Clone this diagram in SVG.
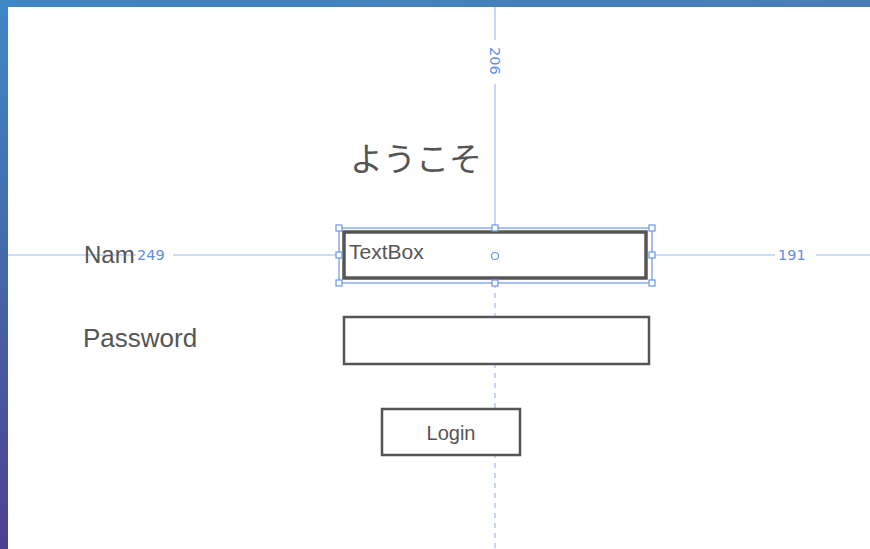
<svg xmlns="http://www.w3.org/2000/svg" width="870" height="549" viewBox="0 0 870 549">
<defs>
<linearGradient id="topbar" x1="0" y1="0" x2="1" y2="0">
<stop offset="0" stop-color="#3f86c6"/><stop offset="1" stop-color="#4a7bb8"/>
</linearGradient>
<linearGradient id="leftbar" x1="0" y1="0" x2="0" y2="1">
<stop offset="0" stop-color="#3f88c8"/><stop offset="0.5" stop-color="#4467a8"/><stop offset="1" stop-color="#4e3f90"/>
</linearGradient>
<style>
.box{fill:#fff;stroke:#555;stroke-width:2.5}
.lbl{font-family:"Liberation Sans","Noto Sans CJK JP",sans-serif;fill:#555}
.vguide{stroke:#c6d6f6;stroke-width:2;fill:none}
.hguide{stroke:#9bb9f0;stroke-width:1.2;fill:none}
.dim{font-family:"DejaVu Sans",sans-serif;font-size:14.5px;fill:#5f8ee8}
.handle{fill:#fff;stroke:#6a95e8;stroke-width:1.2}
</style>
</defs>
<rect x="0" y="0" width="870" height="549" fill="#fff"/>
<rect x="0" y="0" width="870" height="7" fill="url(#topbar)"/>
<rect x="0" y="0" width="8" height="549" fill="url(#leftbar)"/>

<g id="guides">
<line class="vguide" x1="495" y1="7" x2="495" y2="40"/>
<text class="dim" transform="translate(490,47) rotate(90)" fill="#9fb6ef">206</text>
<line class="vguide" x1="495" y1="84" x2="495" y2="228"/>
<line class="vguide" x1="495" y1="283" x2="495" y2="549" stroke-dasharray="5,5"/>
<line class="hguide" x1="8" y1="255" x2="136" y2="255"/>
<text class="dim" x="137" y="260">249</text>
<line class="hguide" x1="173" y1="255" x2="339" y2="255"/>
<line class="hguide" x1="652" y1="255" x2="775" y2="255"/>
<text class="dim" x="778" y="260">191</text>
<line class="hguide" x1="816" y1="255" x2="870" y2="255"/>
</g>

<g id="title">
<text class="lbl" x="350" y="171" font-size="33">ようこそ</text>
</g>

<g id="name-label">
<text class="lbl" x="84" y="263" font-size="24">Nam</text>
</g>

<g id="password-label">
<text class="lbl" x="83" y="347" font-size="26">Password</text>
</g>

<g id="textbox">
<rect x="344" y="232" width="302" height="46" fill="#fff" stroke="#555" stroke-width="3.5"/>
<text class="lbl" x="349" y="259" font-size="21">TextBox</text>
<rect x="339" y="228" width="313" height="55" fill="none" stroke="#6a95e8" stroke-width="1.2"/>
<rect class="handle" x="336" y="225" width="6" height="6"/>
<rect class="handle" x="492" y="225" width="6" height="6"/>
<rect class="handle" x="649" y="225" width="6" height="6"/>
<rect class="handle" x="336" y="252" width="6" height="6"/>
<rect class="handle" x="649" y="252" width="6" height="6"/>
<rect class="handle" x="336" y="280" width="6" height="6"/>
<rect class="handle" x="492" y="280" width="6" height="6"/>
<rect class="handle" x="649" y="280" width="6" height="6"/>
<circle class="handle" cx="495" cy="256" r="3.5"/>
</g>

<g id="password-box">
<rect class="box" x="344" y="317" width="305" height="47"/>
</g>

<g id="login-button">
<rect class="box" x="382" y="409" width="138" height="46"/>
<text class="lbl" x="451" y="440" font-size="20" text-anchor="middle">Login</text>
</g>
</svg>
